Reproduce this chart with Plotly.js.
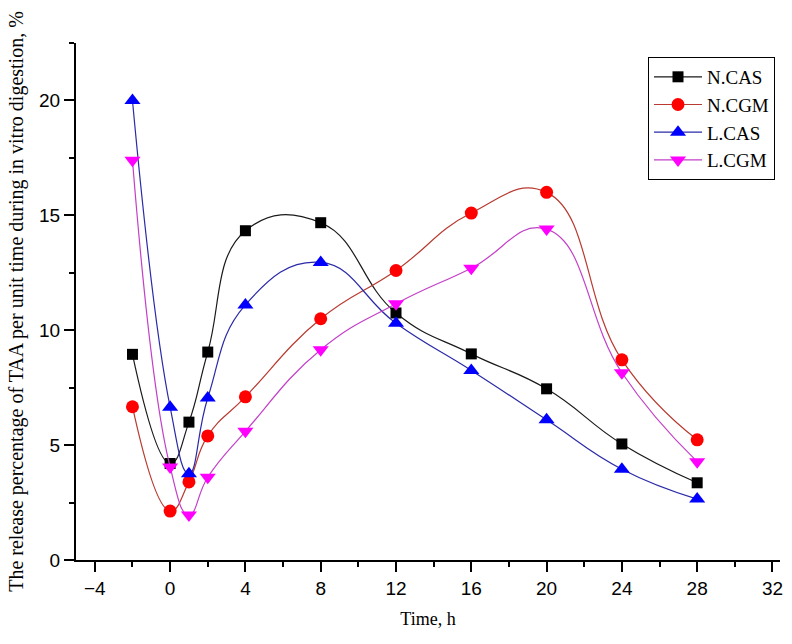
<!DOCTYPE html>
<html>
<head>
<meta charset="utf-8">
<script src="https://cdn.plot.ly/plotly-3.0.1.min.js"></script>
<style>html,body{margin:0;padding:0;background:#fff;}#chart{width:792px;height:644px;}</style>
</head>
<body>
<div id="chart"></div>
<script>
const timeH = [-2, 0, 1, 2, 4, 8, 12, 16, 20, 24, 28];
const nCAS = [8.95, 4.2, 6.0, 9.05, 14.33, 14.68, 10.75, 8.97, 7.45, 5.05, 3.36];
const nCGM = [6.67, 2.13, 3.4, 5.4, 7.1, 10.5, 12.6, 15.1, 16.0, 8.71, 5.23];
const lCAS = [20.0, 6.65, 3.75, 7.05, 11.1, 12.95, 10.3, 8.25, 6.1, 3.95, 2.65];
const lCGM = [17.4, 4.05, 1.96, 3.6, 5.6, 9.15, 11.15, 12.7, 14.4, 8.15, 4.28];
const seriesNames = ['N.CAS', 'N.CGM', 'L.CAS', 'L.CGM'];

const serif = 'Liberation Serif, Times New Roman, serif';
const sans = 'Liberation Sans, Arial, sans-serif';

function tr(name, y, lineColor, markColor, symbol, size) {
  return {
    x: timeH, y: y, name: name, type: 'scatter', mode: 'lines+markers',
    line: {color: lineColor, width: 1.2, shape: 'spline', smoothing: 1.3},
    marker: {color: markColor, symbol: symbol, size: size, line: {width: 0}}
  };
}

const data = [
  tr(seriesNames[0], nCAS, '#1a1a1a', '#000000', 'square', 11),
  tr(seriesNames[1], nCGM, '#b83a30', '#ff0000', 'circle', 13),
  tr(seriesNames[2], lCAS, '#2a2aa8', '#0000ff', 'triangle-up', 14),
  tr(seriesNames[3], lCGM, '#c33fc8', '#ff00ff', 'triangle-down', 14)
];

const layout = {
  width: 792, height: 644,
  margin: {l: 76, r: 12, t: 43, b: 84},
  paper_bgcolor: '#fff', plot_bgcolor: '#fff',
  showlegend: true,
  legend: {
    x: 0.8125, y: 0.973, xanchor: 'left', yanchor: 'top',
    bordercolor: '#000', borderwidth: 1, bgcolor: '#fff',
    font: {family: serif, size: 19, color: '#000'},
    tracegroupgap: 0, itemwidth: 48
  },
  xaxis: {
    range: [-5, 32.4], tickvals: [-4, 0, 4, 8, 12, 16, 20, 24, 28, 32],
    ticks: 'outside', ticklen: 10, tickwidth: 2, tickcolor: '#000',
    showline: true, linecolor: '#000', linewidth: 2,
    showgrid: false, zeroline: false,
    tickfont: {family: sans, size: 19, color: '#000'},
    minor: {dtick: 2, tick0: 0, ticks: 'outside', ticklen: 5, tickwidth: 2, tickcolor: '#000', showgrid: false},
    title: {text: 'Time, h', font: {family: serif, size: 18, color: '#000'}, standoff: 15}
  },
  yaxis: {
    range: [0, 22.5], tickvals: [0, 5, 10, 15, 20],
    ticks: 'outside', ticklen: 10, tickwidth: 2, tickcolor: '#000',
    showline: true, linecolor: '#000', linewidth: 2,
    showgrid: false, zeroline: false,
    tickfont: {family: sans, size: 19, color: '#000'},
    minor: {dtick: 2.5, tick0: 0, ticks: 'outside', ticklen: 5, tickwidth: 2, tickcolor: '#000', showgrid: false},
    title: {text: 'The release percentage of TAA per unit time during in vitro digestion, %', font: {family: serif, size: 20, color: '#000'}, standoff: 10}
  }
};

Plotly.newPlot('chart', data, layout, {displayModeBar: false, staticPlot: true});
</script>
</body>
</html>
